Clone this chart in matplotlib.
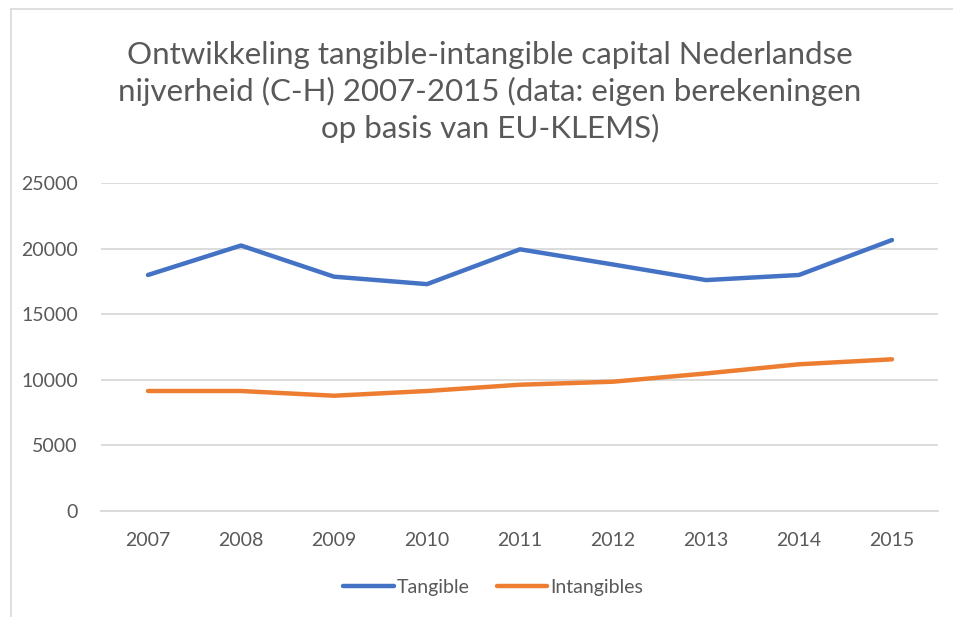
# Excel-style line chart: tangible vs intangible capital, Dutch industry 2007-2015

import matplotlib.pyplot as plt
from matplotlib.lines import Line2D

# data
# ---
years = ["2007", "2008", "2009", "2010", "2011", "2012", "2013", "2014", "2015"]
tangible = [18000, 20250, 17870, 17300, 19960, 18800, 17610, 18000, 20670]
intangibles = [9140, 9140, 8780, 9140, 9620, 9850, 10480, 11180, 11560]

title = ("Ontwikkeling tangible-intangible capital Nederlandse\n"
         "nijverheid (C-H) 2007-2015 (data: eigen berekeningen\n"
         "op basis van EU-KLEMS)")

blue = "#4472C4"
orange = "#ED7D31"
grey_text = "#595959"
grid_col = "#D9D9D9"

plt.rcParams["font.family"] = ["Lato", "DejaVu Sans"]

W, H = 954, 617
fig = plt.figure(figsize=(W / 100, H / 100), dpi=100)

# plot area in pixel coordinates from the reference
left, right, top, bottom = 101.5, 938.5, 183.3, 510.7
ax = fig.add_axes([left / W, 1 - bottom / H, (right - left) / W, (bottom - top) / H])

x = range(len(years))
ax.plot(x, tangible, color=blue, linewidth=3.2, solid_capstyle="round",
        solid_joinstyle="round", label="Tangible", zorder=3)
ax.plot(x, intangibles, color=orange, linewidth=3.2, solid_capstyle="round",
        solid_joinstyle="round", label="Intangibles", zorder=3)

ax.set_xlim(-0.5, len(years) - 0.5)
ax.set_ylim(0, 25000)
ax.set_yticks(range(0, 25001, 5000))
ax.set_xticks(list(x))
ax.set_xticklabels(years)
ax.grid(axis="y", color=grid_col, linewidth=1.3)
ax.set_axisbelow(True)
for s in ["top", "right", "left"]:
    ax.spines[s].set_visible(False)
ax.spines["bottom"].set_color(grid_col)
ax.spines["bottom"].set_linewidth(1.3)
ax.tick_params(axis="both", length=0, labelsize=14, colors=grey_text)
ax.tick_params(axis="x", pad=15)
ax.tick_params(axis="y", pad=17)

fig.text(490 / W, 1 - 92 / H, title, ha="center", va="center", fontsize=22.5,
         color=grey_text, linespacing=1.33)

# legend below the plot
handles = [Line2D([], [], color=blue, linewidth=3.2, solid_capstyle="round"),
           Line2D([], [], color=orange, linewidth=3.2, solid_capstyle="round")]
fig.legend(handles, ["Tangible", "Intangibles"], loc="center",
           bbox_to_anchor=(493 / W, 1 - 587 / H), ncol=2, frameon=False,
           fontsize=14, labelcolor=grey_text, handlelength=2.6,
           handletextpad=0.15, columnspacing=1.4)

# chart border (left and top edges visible in the crop)
fig.add_artist(Line2D([11 / W, 11 / W], [0, 1 - 9 / H], color=grid_col,
                      linewidth=1.2, transform=fig.transFigure))
fig.add_artist(Line2D([11 / W, 1], [1 - 9 / H, 1 - 9 / H], color=grid_col,
                      linewidth=1.2, transform=fig.transFigure))

fig.savefig("out.png", dpi=100)
